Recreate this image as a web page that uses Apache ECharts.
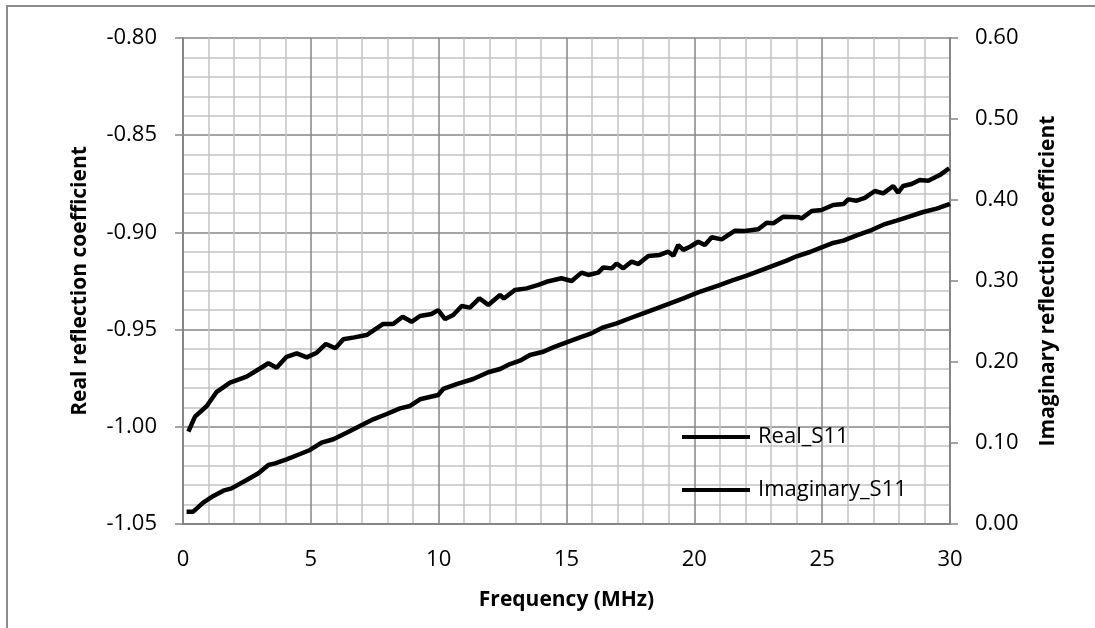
<!DOCTYPE html>
<html>
<head>
<meta charset="utf-8">
<script src="https://cdn.jsdelivr.net/npm/echarts@6/dist/echarts.min.js"></script>
<style>
  html, body { margin: 0; padding: 0; background: #fff; }
  #chart { width: 1095px; height: 628px; }
</style>
</head>
<body>
<div id="chart"></div>
<script>
// Real_S11 (left axis)
const realFreq = [0.21, 0.47, 0.93, 1.32, 1.84, 2.49, 3.01, 3.34, 3.66, 4.05, 4.45, 4.84, 5.23, 5.59, 5.96, 6.27, 6.7, 7.18, 7.83, 8.22, 8.59, 8.94, 9.27, 9.72, 9.98,
  10.25, 10.57, 10.9, 11.22, 11.59, 11.94, 12.4, 12.55, 12.98, 13.44, 13.9, 14.22, 14.8, 15.2, 15.59, 15.85, 16.24, 16.44, 16.77, 16.96, 17.22, 17.55, 17.81,
  18.2, 18.65, 18.98, 19.18, 19.37, 19.57, 19.83, 20.15, 20.41, 20.68, 21.07, 21.59, 21.98, 22.5, 22.83, 23.09, 23.48, 24.07, 24.2, 24.59, 24.98,
  25.43, 25.83, 26.02, 26.35, 26.67, 27.06, 27.39, 27.78, 27.97, 28.17, 28.5, 28.82, 29.15, 29.6, 29.97];
const realVals = [-1.0025, -0.9948, -0.9893, -0.982, -0.9773, -0.9742, -0.970, -0.9673, -0.9696, -0.964, -0.9622, -0.9643, -0.9619, -0.9574, -0.9596, -0.955, -0.954, -0.9528, -0.9471, -0.9471, -0.9434, -0.946, -0.943, -0.942, -0.940,
  -0.9446, -0.9425, -0.9379, -0.9387, -0.9339, -0.9373, -0.9322, -0.934, -0.9296, -0.9288, -0.927, -0.9254, -0.9236, -0.925, -0.9207, -0.9219, -0.9207, -0.918, -0.9185, -0.916, -0.9185, -0.915, -0.9163,
  -0.9121, -0.9116, -0.9099, -0.912, -0.9065, -0.909, -0.9074, -0.9048, -0.9065, -0.9025, -0.9036, -0.8991, -0.8993, -0.8984, -0.895, -0.8953, -0.8919, -0.8922, -0.8928, -0.889, -0.8885,
  -0.8859, -0.8854, -0.883, -0.8837, -0.8822, -0.8787, -0.8799, -0.8761, -0.8796, -0.8761, -0.8751, -0.873, -0.8734, -0.8705, -0.867];

// Imaginary_S11 (right axis)
const imagFreq = [0.14, 0.4, 0.79, 1.19, 1.58, 1.9, 2.49, 2.95, 3.34, 3.6, 4.05, 4.58, 4.97, 5.42, 5.88, 6.4, 6.92, 7.44, 7.97, 8.49, 8.88, 9.27, 9.98,
  10.18, 10.7, 11.35, 11.94, 12.4, 12.79, 13.18, 13.57, 14.09, 14.48, 15.0, 15.53, 15.92, 16.44, 16.96, 17.48, 18.0, 18.53, 19.05, 19.57,
  20.15, 20.93, 21.46, 22.05, 22.57, 23.09, 23.61, 24.0, 24.52, 24.98, 25.43, 25.83, 26.35, 26.87, 27.39, 27.91, 28.43, 28.95, 29.48, 30.0];
const imagVals = [0.0152, 0.0152, 0.0263, 0.0346, 0.0411, 0.044, 0.0543, 0.0626, 0.0728, 0.0749, 0.0798, 0.0864, 0.0914, 0.1004, 0.1046, 0.1127, 0.121, 0.1292, 0.1358, 0.1428, 0.1457, 0.154, 0.1593,
  0.1667, 0.1728, 0.179, 0.1873, 0.1914, 0.1975, 0.2016, 0.2086, 0.2127, 0.2181, 0.2243, 0.2305, 0.2346, 0.2428, 0.2478, 0.254, 0.2601, 0.2663, 0.2725, 0.2786,
  0.286, 0.2943, 0.3004, 0.3066, 0.3128, 0.319, 0.3251, 0.3305, 0.3358, 0.3416, 0.347, 0.3498, 0.3564, 0.3621, 0.3695, 0.3745, 0.3798, 0.3852, 0.3893, 0.3951];

const seriesNames = ["Real_S11", "Imaginary_S11"];

const zip = (xs, ys) => xs.map((x, i) => [x, ys[i]]);

const FONT = "'Open Sans', 'Liberation Sans', sans-serif";
const axisGray = "#868686";
const minorGray = "#c4c4c4";

let myCharts = echarts.init(document.getElementById("chart"));
let option = {
  animation: false,
  textStyle: { fontFamily: FONT },
  graphic: [
    {
      type: "rect",
      shape: { x: 7, y: 6, width: 1200, height: 700 },
      style: { fill: "none", stroke: "#8c8c8c", lineWidth: 2 },
      silent: true,
    },
  ],
  grid: { left: 183, top: 38, right: 145, bottom: 104 },
  legend: {
    orient: "vertical",
    left: 682,
    top: 425,
    padding: 0,
    icon: "rect",
    itemWidth: 68,
    itemHeight: 4,
    itemGap: 29,
    data: seriesNames,
    textStyle: { fontFamily: FONT, fontSize: 22, color: "#000", lineHeight: 24, padding: [0, 0, 0, 3] },
  },
  xAxis: {
    type: "value",
    min: 0,
    max: 30,
    interval: 5,
    name: "Frequency (MHz)",
    nameLocation: "middle",
    nameGap: 66,
    nameTextStyle: { fontFamily: FONT, fontSize: 21, fontWeight: "bold", color: "#000" },
    axisLine: { lineStyle: { color: axisGray, width: 2 } },
    axisTick: { show: false },
    axisLabel: { fontFamily: FONT, fontSize: 22, color: "#000", margin: 25 },
    splitLine: { lineStyle: { color: axisGray, width: 1.5 } },
    minorTick: { show: false, splitNumber: 5 },
    minorSplitLine: { show: true, lineStyle: { color: minorGray, width: 1.5 } },
  },
  yAxis: [
    {
      type: "value",
      min: -1.05,
      max: -0.8,
      interval: 0.05,
      position: "left",
      name: "Real reflection coefficient",
      nameLocation: "middle",
      nameGap: 92,
      nameTextStyle: { fontFamily: FONT, fontSize: 21, fontWeight: "bold", color: "#000" },
      axisLine: { show: true, lineStyle: { color: axisGray, width: 2 } },
      axisTick: { show: true, length: 8, lineStyle: { color: axisGray, width: 1.5 } },
      axisLabel: { fontFamily: FONT, fontSize: 22, color: "#000", margin: 26, formatter: (v) => v.toFixed(2) },
      splitLine: { lineStyle: { color: axisGray, width: 1.5 } },
      minorTick: { show: false, splitNumber: 5 },
      minorSplitLine: { show: true, lineStyle: { color: minorGray, width: 1.5 } },
    },
    {
      type: "value",
      min: 0,
      max: 0.6,
      interval: 0.1,
      position: "right",
      name: "Imaginary reflection coefficient",
      nameLocation: "middle",
      nameGap: 88,
      nameTextStyle: { fontFamily: FONT, fontSize: 21, fontWeight: "bold", color: "#000" },
      axisLine: { show: true, lineStyle: { color: axisGray, width: 2 } },
      axisTick: { show: true, length: 8, lineStyle: { color: axisGray, width: 1.5 } },
      axisLabel: { fontFamily: FONT, fontSize: 22, color: "#000", margin: 25, formatter: (v) => v.toFixed(2) },
      splitLine: { show: false },
    },
  ],
  series: [
    {
      name: seriesNames[0],
      type: "line",
      yAxisIndex: 0,
      symbol: "none",
      smooth: false,
      lineStyle: { color: "#000", width: 4.5 },
      itemStyle: { color: "#000" },
      data: zip(realFreq, realVals),
    },
    {
      name: seriesNames[1],
      type: "line",
      yAxisIndex: 1,
      symbol: "none",
      smooth: false,
      lineStyle: { color: "#000", width: 4.5 },
      itemStyle: { color: "#000" },
      data: zip(imagFreq, imagVals),
    },
  ],
};
myCharts.setOption(option);
</script>
</body>
</html>
